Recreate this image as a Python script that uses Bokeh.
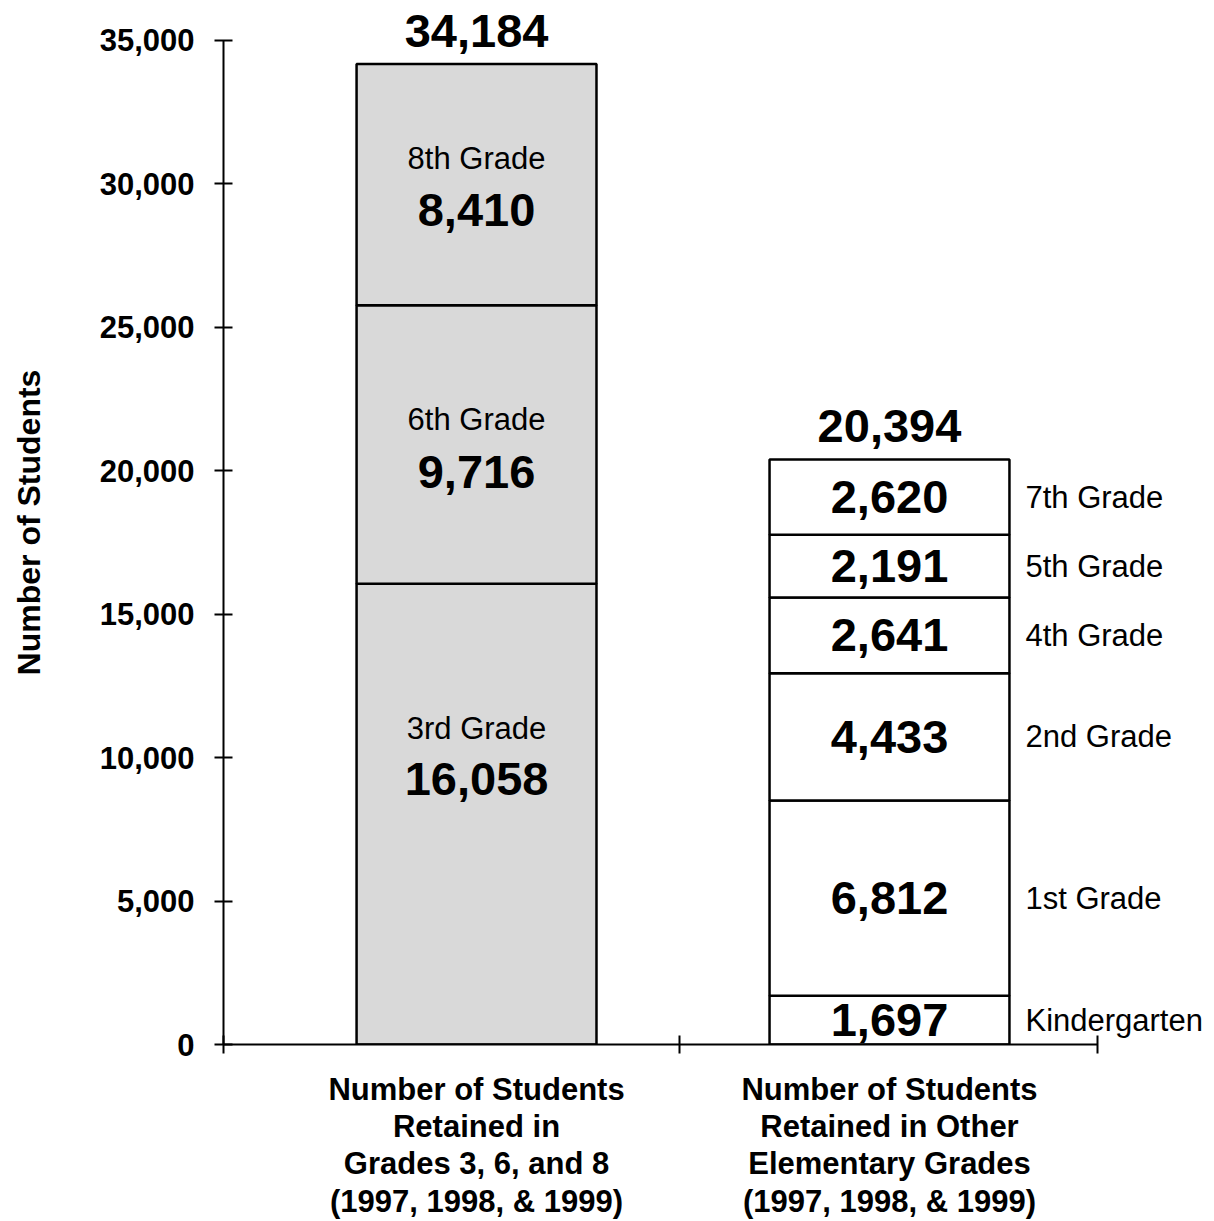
from bokeh.plotting import figure
from bokeh.models import ColumnDataSource, Range1d, FixedTicker, NumeralTickFormatter
from bokeh.core.properties import value
from bokeh.embed import file_html
from bokeh.resources import INLINE

# Students retained, 1997-1999, stacked bottom to top
tested_grades = ["3rd Grade", "6th Grade", "8th Grade"]
tested_counts = [16058, 9716, 8410]

other_grades = ["Kindergarten", "1st Grade", "2nd Grade", "4th Grade", "5th Grade", "7th Grade"]
other_counts = [1697, 6812, 4433, 2641, 2191, 2620]

category_labels = [
    "Number of Students\nRetained in\nGrades 3, 6, and 8\n(1997, 1998, & 1999)",
    "Number of Students\nRetained in Other\nElementary Grades\n(1997, 1998, & 1999)",
]
y_ticks = [0, 5000, 10000, 15000, 20000, 25000, 30000, 35000]

FONT = value("Liberation Sans")

# x positions (axis runs 0..2, with the category divider slightly right of centre)
bar_centers = [0.579, 1.524]
bar_width = 0.549
category_edges = [0, 1.043, 2]


def stack(counts):
    bottoms, tops = [], []
    run = 0
    for c in counts:
        bottoms.append(run)
        run += c
        tops.append(run)
    return bottoms, tops


p = figure(
    width=1214, height=1221,
    x_range=Range1d(0, 2.2677), y_range=Range1d(0, 36394),
    output_backend="svg", toolbar_location=None,
    min_border_left=223, min_border_right=0, min_border_top=0, min_border_bottom=177,
)
p.outline_line_color = None
p.xgrid.visible = False
p.ygrid.visible = False
p.background_fill_color = "white"
p.border_fill_color = "white"

# --- left stacked bar (grades 3, 6, 8)
b1, t1 = stack(tested_counts)
src1 = ColumnDataSource(dict(
    left=[bar_centers[0] - bar_width / 2] * len(tested_counts),
    right=[bar_centers[0] + bar_width / 2] * len(tested_counts),
    bottom=b1, top=t1,
    mid=[(b + t) / 2 for b, t in zip(b1, t1)],
    x=[bar_centers[0]] * len(tested_counts),
    grade=tested_grades,
    count=[f"{c:,}" for c in tested_counts],
    name_off=[-86, -25, -26],
    val_off=[-35, 27, 25],
))
p.quad(left="left", right="right", bottom="bottom", top="top", source=src1,
       fill_color="#d9d9d9", line_color="black", line_width=2.5)
p.text(x="x", y="mid", text="grade", y_offset="name_off", source=src1,
       text_font=FONT, text_font_size="31px", text_align="center",
       text_baseline="middle", text_color="black")
p.text(x="x", y="mid", text="count", y_offset="val_off", source=src1,
       text_font=FONT, text_font_size="47px", text_font_style="bold",
       text_align="center", text_baseline="middle", text_color="black")

# --- right stacked bar (other elementary grades)
b2, t2 = stack(other_counts)
src2 = ColumnDataSource(dict(
    left=[bar_centers[1] - bar_width / 2] * len(other_counts),
    right=[bar_centers[1] + bar_width / 2] * len(other_counts),
    bottom=b2, top=t2,
    mid=[(b + t) / 2 for b, t in zip(b2, t2)],
    x=[bar_centers[1]] * len(other_counts),
    grade=other_grades,
    count=[f"{c:,}" for c in other_counts],
))
p.quad(left="left", right="right", bottom="bottom", top="top", source=src2,
       fill_color="white", line_color="black", line_width=2.5)
p.text(x="x", y="mid", text="count", source=src2,
       text_font=FONT, text_font_size="47px", text_font_style="bold",
       text_align="center", text_baseline="middle", text_color="black")
p.text(x="right", y="mid", text="grade", x_offset=16, source=src2,
       text_font=FONT, text_font_size="31px", text_align="left",
       text_baseline="middle", text_color="black")

# --- totals above each bar
totals = [sum(tested_counts), sum(other_counts)]
tot_src = ColumnDataSource(dict(
    x=bar_centers, y=totals, text=[f"{t:,}" for t in totals], off=[-33, -33],
))
p.text(x="x", y="y", text="text", y_offset="off", source=tot_src,
       text_font=FONT, text_font_size="47px", text_font_style="bold",
       text_align="center", text_baseline="middle", text_color="black")

# --- y axis
ya = p.yaxis[0]
ya.ticker = FixedTicker(ticks=y_ticks)
ya.formatter = NumeralTickFormatter(format="0,0")
ya.bounds = (0, 35000)
ya.axis_line_width = 2
ya.axis_line_color = "black"
ya.major_tick_in = 9
ya.major_tick_out = 9
ya.major_tick_line_width = 2
ya.major_tick_line_color = "black"
ya.minor_tick_line_color = None
ya.major_label_text_font = "Liberation Sans"
ya.major_label_text_font_style = "bold"
ya.major_label_text_font_size = "31px"
ya.major_label_text_color = "black"
ya.major_label_standoff = 20
ya.axis_label = "Number of Students"
ya.axis_label_text_font = "Liberation Sans"
ya.axis_label_text_font_style = "bold"
ya.axis_label_text_font_size = "32px"
ya.axis_label_text_color = "black"
ya.axis_label_standoff = 50

# --- x axis: labels under bar centres, ticks at category edges
xa = p.xaxis[0]
xa.ticker = FixedTicker(ticks=bar_centers, minor_ticks=category_edges)
xa.major_label_overrides = {bar_centers[0]: category_labels[0], bar_centers[1]: category_labels[1]}
xa.bounds = (0, 2)
xa.axis_line_width = 2
xa.axis_line_color = "black"
xa.major_tick_line_color = None
xa.major_tick_in = 0
xa.major_tick_out = 0
xa.minor_tick_in = 9
xa.minor_tick_out = 9
xa.minor_tick_line_width = 2
xa.minor_tick_line_color = "black"
xa.major_label_text_font = "Liberation Sans"
xa.major_label_text_font_style = "bold"
xa.major_label_text_font_size = "31px"
xa.major_label_text_color = "black"
xa.major_label_text_line_height = 1.07
xa.major_label_standoff = 18

open("out.html", "w").write(file_html(p, INLINE))
